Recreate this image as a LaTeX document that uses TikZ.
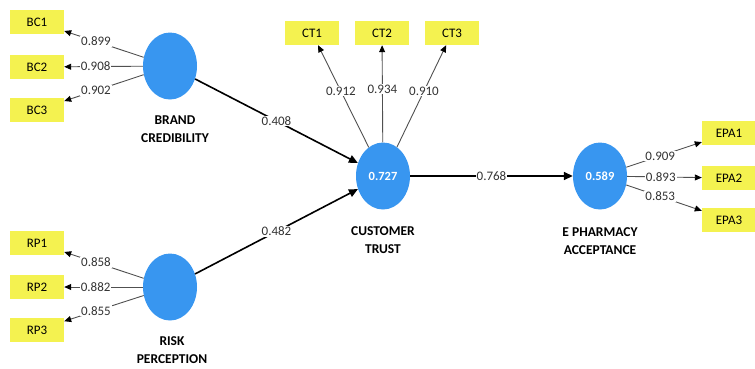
\documentclass[tikz,border=0pt]{standalone}
\usepackage{fontspec}
\setmainfont{Carlito}
\usetikzlibrary{arrows.meta,shapes.geometric}
\definecolor{lvblue}{RGB}{56,150,240}
\definecolor{indyel}{RGB}{244,242,80}
\definecolor{loadgray}{RGB}{80,80,80}
\tikzset{
  latent/.style={ellipse, fill=lvblue, minimum width=54pt, minimum height=67pt, inner sep=0pt, text=white, font=\bfseries\fontsize{12.5}{13}\selectfont},
  indic/.style={rectangle, fill=indyel, minimum width=54pt, minimum height=24pt, inner sep=0pt, font=\fontsize{13}{14}\selectfont},
  lvlabel/.style={align=center, font=\bfseries\fontsize{13.5}{18}\selectfont},
  loadarrow/.style={draw=loadgray, line width=0.9pt, -{Triangle[length=7pt,width=6pt,color=black]}},
  patharrow/.style={draw=black, line width=1.6pt, -{Triangle[length=9pt,width=8pt]}},
  num/.style={fill=white, inner sep=1pt, font=\fontsize{13}{14}\selectfont, text=black!80},
}
\begin{document}
\begin{tikzpicture}[x=1pt,y=-1pt]
\useasboundingbox (0,0) rectangle (755,368);
% latent variables
\node[latent] (BC) at (170,66) {};
\node[latent] (RP) at (170,287) {};
\node[latent] (CT) at (383,176) {0.727};
\node[latent] (EPA) at (600,176) {0.589};
% labels
\node[lvlabel] (BCl) at (175,129) {BRAND\\CREDIBILITY};
\node[lvlabel] (RPl) at (172,350) {RISK\\PERCEPTION};
\node[lvlabel] (CTl) at (383,240) {CUSTOMER\\TRUST};
\node[lvlabel] (EPAl) at (600,241) {E PHARMACY\\ACCEPTANCE};
% indicators
\node[indic] (BC1) at (37,22) {BC1};
\node[indic] (BC2) at (37,67) {BC2};
\node[indic] (BC3) at (37,110) {BC3};
\node[indic] (RP1) at (37,243) {RP1};
\node[indic] (RP2) at (37,287) {RP2};
\node[indic] (RP3) at (37,330) {RP3};
\node[indic] (CT1) at (312,33) {CT1};
\node[indic] (CT2) at (382,33) {CT2};
\node[indic] (CT3) at (452,33) {CT3};
\node[indic] (EPA1) at (729,133) {EPA1};
\node[indic] (EPA2) at (729,178) {EPA2};
\node[indic] (EPA3) at (729,220) {EPA3};
% loadings
\draw[loadarrow] (BC) -- (BC1) node[num, pos=0.6] {0.899};
\draw[loadarrow] (BC) -- (BC2) node[num, pos=0.6] {0.908};
\draw[loadarrow] (BC) -- (BC3) node[num, pos=0.6] {0.902};
\draw[loadarrow] (RP) -- (RP1) node[num, pos=0.6] {0.858};
\draw[loadarrow] (RP) -- (RP2) node[num, pos=0.6] {0.882};
\draw[loadarrow] (RP) -- (RP3) node[num, pos=0.6] {0.855};
\draw[loadarrow] (CT) -- (CT1) node[num, pos=0.55] {0.912};
\draw[loadarrow] (CT) -- (CT2) node[num, pos=0.55] {0.934};
\draw[loadarrow] (CT) -- (CT3) node[num, pos=0.55] {0.910};
\draw[loadarrow] (EPA) -- (EPA1) node[num, pos=0.45] {0.909};
\draw[loadarrow] (EPA) -- (EPA2) node[num, pos=0.45] {0.893};
\draw[loadarrow] (EPA) -- (EPA3) node[num, pos=0.45] {0.853};
% paths
\draw[patharrow] (BC) -- (CT) node[num, pos=0.5] {0.408};
\draw[patharrow] (RP) -- (CT) node[num, pos=0.5] {0.482};
\draw[patharrow] (CT) -- (EPA) node[num, pos=0.5] {0.768};
\end{tikzpicture}
\end{document}
